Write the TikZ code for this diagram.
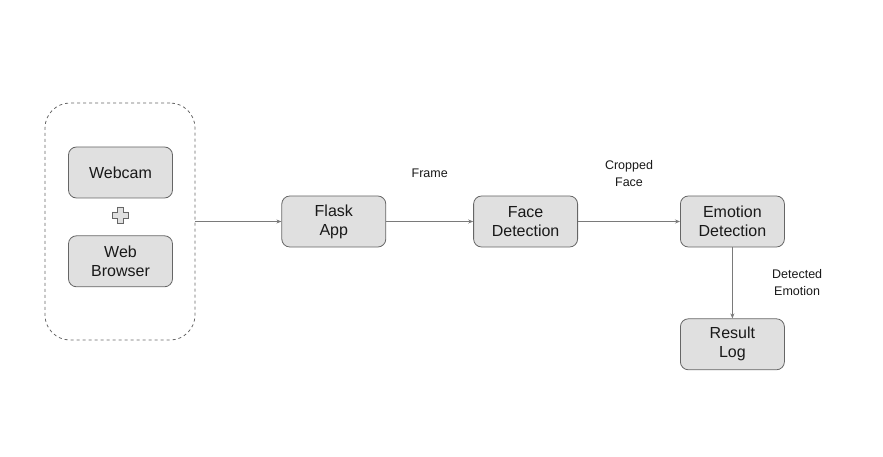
\documentclass[tikz,border=0pt]{standalone}
\usepackage{fontspec}
\setmainfont{Liberation Sans}
\usetikzlibrary{positioning,arrows.meta}

\definecolor{boxfill}{HTML}{E0E0E0}
\definecolor{boxline}{HTML}{666666}
\definecolor{linkgray}{HTML}{7A7A7A}

\tikzset{
  block/.style={draw=boxline, fill=boxfill, rounded corners=8pt, line width=0.8pt,
    minimum width=104pt, minimum height=51pt, align=center,
    font=\fontsize{16}{19}\selectfont, text=black!90},
  link/.style={-{Stealth[length=5pt,width=4pt]}, draw=linkgray, line width=0.8pt},
  tag/.style={align=center, font=\fontsize{12.5}{17}\selectfont, text=black!90}
}

\begin{document}
\begin{tikzpicture}[x=1pt, y=-1pt, node distance=37pt]
  \useasboundingbox (0,0) rectangle (883,457);
  \node(client)[draw=boxline, dashed, rounded corners=25pt, line width=0.8pt,
    minimum width=150pt, minimum height=237pt] at (120,221.5) {};
  \node(webcam)[block] at (120.5,172.5) {Webcam};
  \node(browser)[block, below=of webcam] {Web\\Browser};
  \node(flask)[block, right=86pt of client] {Flask\\App};
  \node(face)[block, right=87pt of flask] {Face\\Detection};
  \node(emotion)[block, right=102pt of face] {Emotion\\Detection};
  \node(result)[block, below=71pt of emotion] {Result\\Log};
  % plus sign between webcam and browser
  \node(plus)[inner sep=0pt] at (120,215) {};
  \draw[boxline, fill=boxfill, line width=0.8pt] ([shift={(-3,-8)}]plus.center) -- ++(6,0) -- ++(0,5)
    -- ++(5,0) -- ++(0,6) -- ++(-5,0) -- ++(0,5) -- ++(-6,0) -- ++(0,-5)
    -- ++(-5,0) -- ++(0,-6) -- ++(5,0) -- cycle;
  \draw[link] (client) -- (flask);
  \draw[link] (flask) -- (face) node[midway, above=40pt, tag] {Frame};
  \draw[link] (face) -- (emotion) node[midway, above=31pt, tag] {Cropped\\Face};
  \draw[link] (emotion) -- (result) node[midway, right=36pt, tag] {Detected\\Emotion};
\end{tikzpicture}
\end{document}
